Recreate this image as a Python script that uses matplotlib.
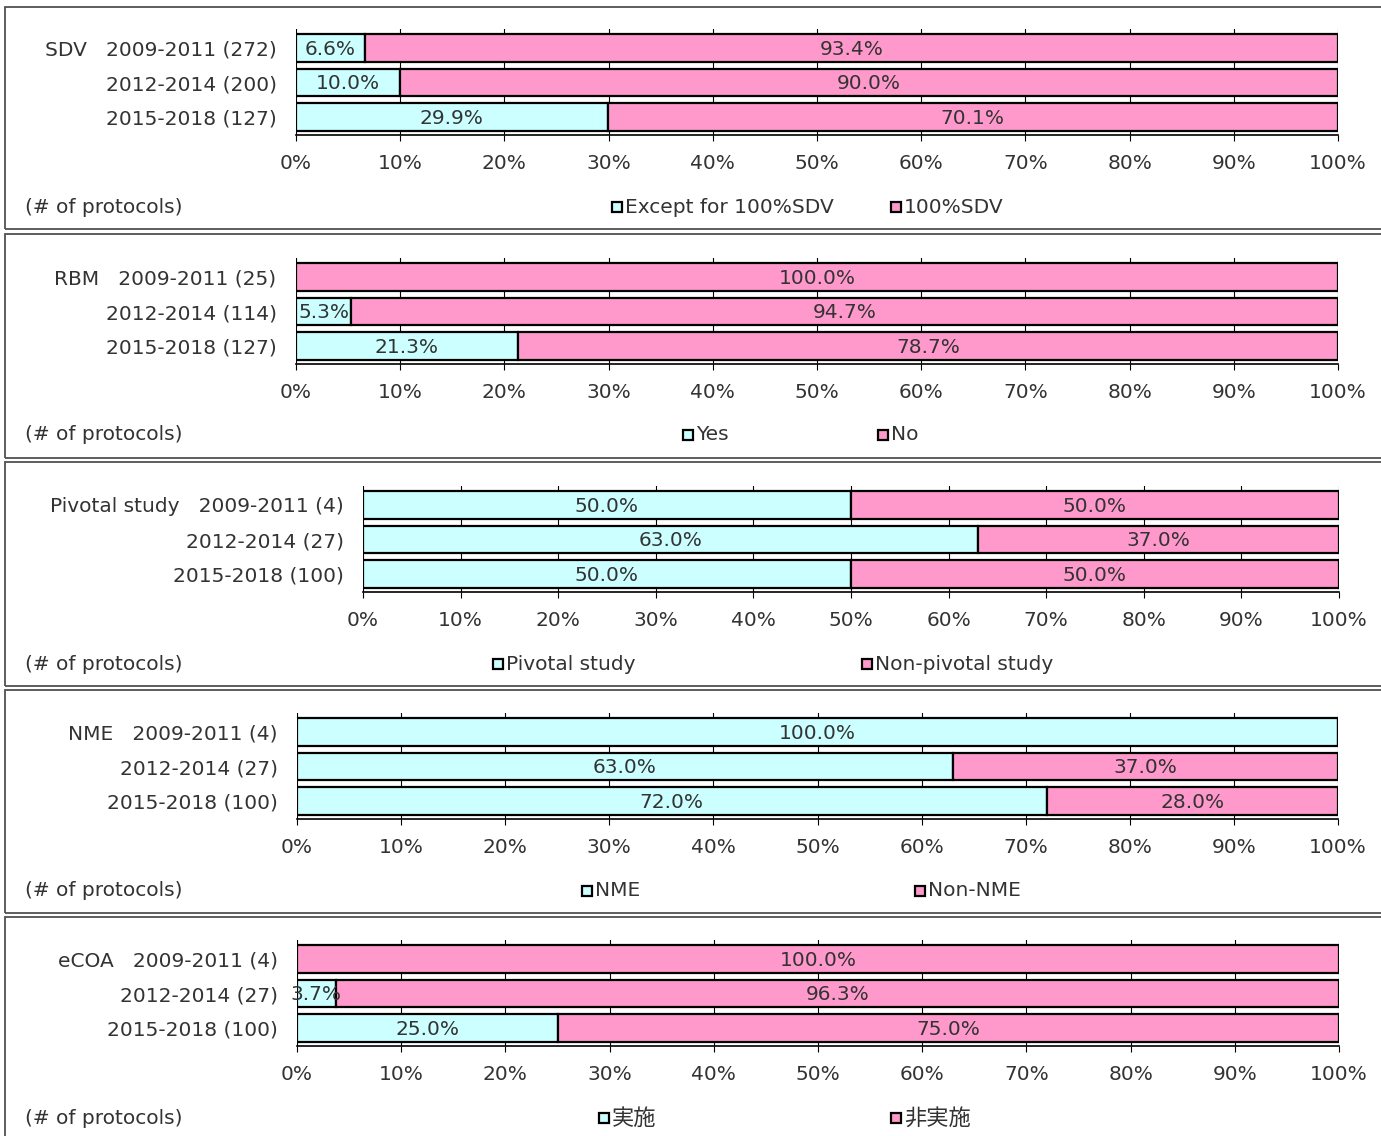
import matplotlib
matplotlib.use("Agg")
import matplotlib.pyplot as plt
from matplotlib.patches import Rectangle

plt.rcParams['font.family'] = ['DejaVu Sans', 'Noto Sans CJK JP']

W, H = 1381, 1136
CYAN = '#CCFFFF'
PINK = '#FF99CC'
TXT = '#333333'
FS = 14.5

# --- data -------------------------------------------------------------
sdv_periods = ['2009-2011 (272)', '2012-2014 (200)', '2015-2018 (127)']
sdv_yes = [6.6, 10.0, 29.9]
sdv_no = [93.4, 90.0, 70.1]
sdv_legend = ['Except for 100%SDV', '100%SDV']

rbm_periods = ['2009-2011 (25)', '2012-2014 (114)', '2015-2018 (127)']
rbm_yes = [0.0, 5.3, 21.3]
rbm_no = [100.0, 94.7, 78.7]
rbm_legend = ['Yes', 'No']

piv_periods = ['2009-2011 (4)', '2012-2014 (27)', '2015-2018 (100)']
piv_yes = [50.0, 63.0, 50.0]
piv_no = [50.0, 37.0, 50.0]
piv_legend = ['Pivotal study', 'Non-pivotal study']

nme_periods = ['2009-2011 (4)', '2012-2014 (27)', '2015-2018 (100)']
nme_yes = [100.0, 63.0, 72.0]
nme_no = [0.0, 37.0, 28.0]
nme_legend = ['NME', 'Non-NME']

ecoa_periods = ['2009-2011 (4)', '2012-2014 (27)', '2015-2018 (100)']
ecoa_yes = [0.0, 3.7, 25.0]
ecoa_no = [100.0, 96.3, 75.0]
ecoa_legend = ['実施', '非実施']

ticks = list(range(0, 101, 10))

# name, periods, yes, no, legend, axes box (px), frame (px), legend square x, footer y, legend size
panels = [
    ('SDV', sdv_periods, sdv_yes, sdv_no, sdv_legend, (296, 29, 1338, 135), (5, 7, 229), (612, 891), 207, FS),
    ('RBM', rbm_periods, rbm_yes, rbm_no, rbm_legend, (296, 258, 1338, 364), (5, 234, 458), (683, 878), 435, FS),
    ('Pivotal study', piv_periods, piv_yes, piv_no, piv_legend, (363, 486, 1339, 592), (5, 462, 686), (493, 862), 664, FS),
    ('NME', nme_periods, nme_yes, nme_no, nme_legend, (297, 713, 1338, 819), (5, 690, 913), (582, 915), 891, FS),
    ('eCOA', ecoa_periods, ecoa_yes, ecoa_no, ecoa_legend, (297, 940, 1339, 1046), (5, 917, 1150), (599, 891), 1118, 16),
]

fig = plt.figure(figsize=(W / 100, H / 100), dpi=100)


def fx(x):
    return x / W


def fy(y):
    return 1 - y / H


for name, periods, yes, no, legend, box, frame, leg_x, leg_y, leg_fs in panels:
    # panel frame
    fx0, ft, fb = frame
    fig.add_artist(Rectangle((fx(fx0), fy(fb)), fx(1400 - fx0), (fb - ft) / H,
                             transform=fig.transFigure, fill=False,
                             edgecolor='#505050', linewidth=1.3))

    x0, y0, x1, y1 = box
    ax = fig.add_axes([fx(x0), fy(y1), fx(x1 - x0), (y1 - y0) / H])
    rows = list(range(len(periods)))
    ax.barh(rows, yes, height=0.8, color=CYAN, edgecolor='black', linewidth=1.6, zorder=2)
    ax.barh(rows, no, left=yes, height=0.8, color=PINK, edgecolor='black', linewidth=1.6, zorder=2)

    for i in rows:
        if yes[i] > 0:
            ax.text(yes[i] / 2, i + 0.03, f'{yes[i]:.1f}%', ha='center', va='center',
                    fontsize=FS, color=TXT, zorder=3)
        if no[i] > 0:
            ax.text(yes[i] + no[i] / 2, i + 0.03, f'{no[i]:.1f}%', ha='center', va='center',
                    fontsize=FS, color=TXT, zorder=3)

    ax.set_xlim(0, 100)
    ax.set_ylim(2.52, -0.55)
    ax.set_xticks(ticks)
    ax.set_xticklabels([f'{t}%' for t in ticks], fontsize=FS, color=TXT)
    ax.set_yticks(rows)
    labels = list(periods)
    labels[0] = name + '   ' + labels[0]
    ax.set_yticklabels(labels, fontsize=FS, color=TXT)
    ax.tick_params(axis='y', length=0, pad=14)
    ax.tick_params(axis='x', length=4, width=0.8, direction='out', pad=10)
    ax.xaxis.grid(True, color='black', linewidth=0.8)
    ax.set_axisbelow(True)
    for s in ('top', 'right', 'left'):
        ax.spines[s].set_visible(False)
    ax.spines['bottom'].set_linewidth(1.2)

    # footer: count note and legend
    fig.text(fx(25), fy(leg_y), '(# of protocols)', ha='left', va='center',
             fontsize=FS, color=TXT)
    for sx, lab, col in zip(leg_x, legend, (CYAN, PINK)):
        fig.add_artist(Rectangle((fx(sx), fy(leg_y + 5)), fx(10), 10 / H,
                                 transform=fig.transFigure, facecolor=col,
                                 edgecolor='black', linewidth=1.6))
        fig.text(fx(sx + 13), fy(leg_y), lab, ha='left', va='center',
                 fontsize=leg_fs, color=TXT)

fig.savefig('out.png', dpi=100)
